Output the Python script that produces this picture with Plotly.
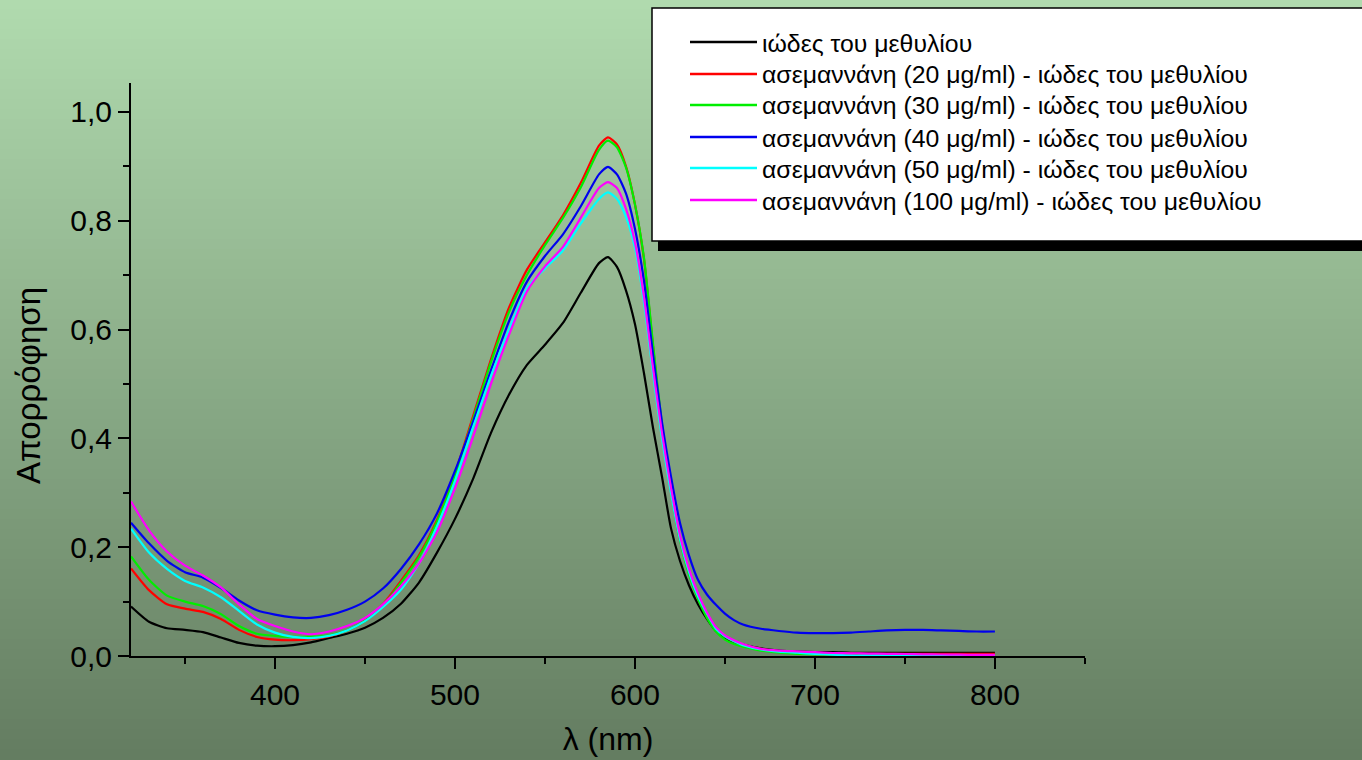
import plotly.graph_objects as go

# ---------------- data ----------------
wavelength = [320, 330, 340, 350, 360, 370, 380, 390, 400, 410, 420, 430, 440, 450, 460,
              470, 480, 490, 500, 510, 520, 530, 540, 550, 560, 570, 580, 585, 590, 595,
              600, 605, 610, 615, 620, 625, 630, 635, 640, 645, 650, 655, 660, 670, 680,
              690, 700, 710, 720, 730, 740, 750, 760, 770, 780, 790, 800]

abs_mv = [0.091, 0.063, 0.051, 0.048, 0.044, 0.034, 0.024, 0.019, 0.018, 0.020, 0.025, 0.033, 0.041, 0.052, 0.070,
          0.096, 0.135, 0.190, 0.252, 0.325, 0.410, 0.480, 0.535, 0.572, 0.612, 0.668, 0.722, 0.733, 0.715, 0.672,
          0.610, 0.520, 0.420, 0.330, 0.235, 0.175, 0.130, 0.095, 0.068, 0.046, 0.033, 0.026, 0.021, 0.014, 0.010,
          0.008, 0.007, 0.007, 0.006, 0.006, 0.006, 0.006, 0.006, 0.006, 0.006, 0.006, 0.006]

abs_20 = [0.161, 0.121, 0.095, 0.087, 0.081, 0.068, 0.048, 0.035, 0.030, 0.029, 0.031, 0.036, 0.047, 0.065, 0.095,
          0.138, 0.185, 0.250, 0.335, 0.440, 0.545, 0.640, 0.710, 0.760, 0.810, 0.870, 0.938, 0.953, 0.940, 0.900,
          0.830, 0.730, 0.570, 0.420, 0.305, 0.215, 0.155, 0.112, 0.078, 0.052, 0.036, 0.027, 0.021, 0.013, 0.009,
          0.007, 0.006, 0.005, 0.005, 0.004, 0.004, 0.004, 0.004, 0.004, 0.004, 0.004, 0.004]

abs_30 = [0.183, 0.140, 0.111, 0.100, 0.092, 0.077, 0.055, 0.041, 0.037, 0.035, 0.035, 0.038, 0.047, 0.064, 0.093,
          0.135, 0.182, 0.247, 0.332, 0.435, 0.540, 0.632, 0.700, 0.755, 0.805, 0.862, 0.930, 0.947, 0.935, 0.898,
          0.830, 0.732, 0.575, 0.425, 0.305, 0.213, 0.150, 0.105, 0.070, 0.045, 0.030, 0.022, 0.017, 0.010, 0.006,
          0.004, 0.003, 0.003, 0.002, 0.002, 0.002, 0.001, 0.001, 0.001, 0.001, 0.001, 0.001]

abs_40 = [0.245, 0.207, 0.175, 0.154, 0.144, 0.125, 0.102, 0.084, 0.076, 0.071, 0.070, 0.075, 0.085, 0.100, 0.124,
          0.160, 0.205, 0.262, 0.340, 0.430, 0.525, 0.615, 0.688, 0.735, 0.775, 0.827, 0.885, 0.899, 0.885, 0.850,
          0.785, 0.690, 0.555, 0.430, 0.330, 0.245, 0.185, 0.140, 0.113, 0.094, 0.078, 0.066, 0.058, 0.050, 0.046,
          0.043, 0.042, 0.042, 0.043, 0.045, 0.047, 0.048, 0.048, 0.047, 0.046, 0.045, 0.045]

abs_50 = [0.234, 0.190, 0.160, 0.138, 0.126, 0.108, 0.083, 0.058, 0.043, 0.035, 0.033, 0.037, 0.047, 0.064, 0.090,
          0.122, 0.170, 0.238, 0.322, 0.420, 0.515, 0.600, 0.676, 0.712, 0.745, 0.795, 0.840, 0.852, 0.840, 0.807,
          0.750, 0.650, 0.520, 0.400, 0.300, 0.215, 0.155, 0.110, 0.078, 0.050, 0.036, 0.027, 0.020, 0.012, 0.008,
          0.006, 0.004, 0.0025, 0.001, 0.001, 0.001, 0.0006, 0.0005, 0.0005, 0.0005, 0.0005, 0.0005]

abs_100 = [0.284, 0.231, 0.192, 0.166, 0.148, 0.126, 0.095, 0.068, 0.055, 0.045, 0.040, 0.045, 0.055, 0.070, 0.095,
           0.128, 0.170, 0.228, 0.308, 0.402, 0.500, 0.590, 0.670, 0.716, 0.752, 0.806, 0.860, 0.871, 0.860, 0.822,
           0.760, 0.660, 0.530, 0.410, 0.310, 0.222, 0.160, 0.115, 0.080, 0.053, 0.038, 0.029, 0.022, 0.013, 0.010,
           0.0085, 0.007, 0.0055, 0.005, 0.0045, 0.004, 0.0037, 0.003, 0.0028, 0.0025, 0.002, 0.002]

series_names = [
    "ιώδες του μεθυλίου",
    "ασεμαννάνη (20 μg/ml) - ιώδες του μεθυλίου",
    "ασεμαννάνη (30 μg/ml) - ιώδες του μεθυλίου",
    "ασεμαννάνη (40 μg/ml) - ιώδες του μεθυλίου",
    "ασεμαννάνη (50 μg/ml) - ιώδες του μεθυλίου",
    "ασεμαννάνη (100 μg/ml) - ιώδες του μεθυλίου",
]
series_colors = ["#000000", "#ff0000", "#00ee00", "#0000ee", "#00ffff", "#ff00ff"]
series_values = [abs_mv, abs_20, abs_30, abs_40, abs_50, abs_100]

x_title = "λ (nm)"
y_title = "Απορρόφηση"

# ---------------- layout geometry ----------------
W, H = 1362, 760
L, R, T, B = 131, 277, 83, 104
PW, PH = W - L - R, H - T - B


def pxx(x):
    return (x - L) / PW


def pxy(y):
    return (H - B - y) / PH


FONT = "Liberation Sans, Arial, sans-serif"

fig = go.Figure()
for name, color, vals in zip(series_names, series_colors, series_values):
    fig.add_trace(go.Scatter(
        x=wavelength, y=vals, mode="lines", name=name,
        line=dict(color=color, width=2.2, shape="spline", smoothing=0.6),
        showlegend=False,
    ))

shapes = []
# background vertical gradient
top_c = (177, 219, 175)
bot_c = (99, 124, 96)
n = 76
for i in range(n):
    t = (i + 0.5) / n
    c = tuple(round(a + (b - a) * t) for a, b in zip(top_c, bot_c))
    shapes.append(dict(type="rect", xref="paper", yref="paper",
                       x0=pxx(-5), x1=pxx(W + 5), y0=pxy(i * 10 - 1), y1=pxy((i + 1) * 10 + 1),
                       fillcolor="rgb(%d,%d,%d)" % c, line=dict(width=0), layer="below"))

# legend box with shadow
shapes.append(dict(type="rect", xref="paper", yref="paper",
                   x0=pxx(658), x1=pxx(W + 20), y0=pxy(16), y1=pxy(251),
                   fillcolor="black", line=dict(width=0), layer="above"))
shapes.append(dict(type="rect", xref="paper", yref="paper",
                   x0=pxx(652), x1=pxx(W + 20), y0=pxy(8), y1=pxy(241),
                   fillcolor="white", line=dict(color="black", width=1.5), layer="above"))

annotations = []
rows = [42, 74, 105, 137, 168, 200]
for name, color, ry in zip(series_names, series_colors, rows):
    shapes.append(dict(type="line", xref="paper", yref="paper",
                       x0=pxx(690), x1=pxx(757), y0=pxy(ry), y1=pxy(ry),
                       line=dict(color=color, width=2.5), layer="above"))
    annotations.append(dict(xref="paper", yref="paper", x=pxx(760), y=pxy(ry + 1),
                            xanchor="left", yanchor="middle", text=name, showarrow=False,
                            font=dict(family=FONT, size=24.8, color="black")))

# y-axis title (placed as in the reference, slightly below the axis centre)
annotations.append(dict(xref="paper", yref="paper", x=pxx(28), y=pxy(386),
                        xanchor="center", yanchor="middle", text=y_title, textangle=-90,
                        showarrow=False, font=dict(family=FONT, size=33, color="black")))

fig.update_layout(
    width=W, height=H,
    margin=dict(l=L, r=R, t=T, b=B, pad=0),
    paper_bgcolor="rgb(138,171,135)",
    plot_bgcolor="rgba(0,0,0,0)",
    separators=",.",
    font=dict(family=FONT, color="black"),
    shapes=shapes,
    annotations=annotations,
    showlegend=False,
    xaxis=dict(
        range=[320, 850.05], showline=True, linecolor="black", linewidth=2,
        ticks="outside", ticklen=11, tickwidth=2, tickcolor="black",
        tick0=400, dtick=100, showgrid=False, zeroline=False,
        minor=dict(ticks="outside", ticklen=6, tickwidth=2, tickcolor="black", dtick=50, showgrid=False),
        tickfont=dict(family=FONT, size=30, color="black"),
        title=dict(text=x_title, font=dict(family=FONT, size=32, color="black"), standoff=18),
        automargin=False,
    ),
    yaxis=dict(
        range=[0, 1.053], showline=True, linecolor="black", linewidth=2,
        ticks="outside", ticklen=11, tickwidth=2, tickcolor="black",
        tick0=0, dtick=0.2, tickformat=".1f", showgrid=False, zeroline=False,
        minor=dict(ticks="outside", ticklen=6, tickwidth=2, tickcolor="black", dtick=0.1, showgrid=False),
        tickfont=dict(family=FONT, size=30, color="black"),
        automargin=False,
    ),
)

fig.write_html("out.html")
